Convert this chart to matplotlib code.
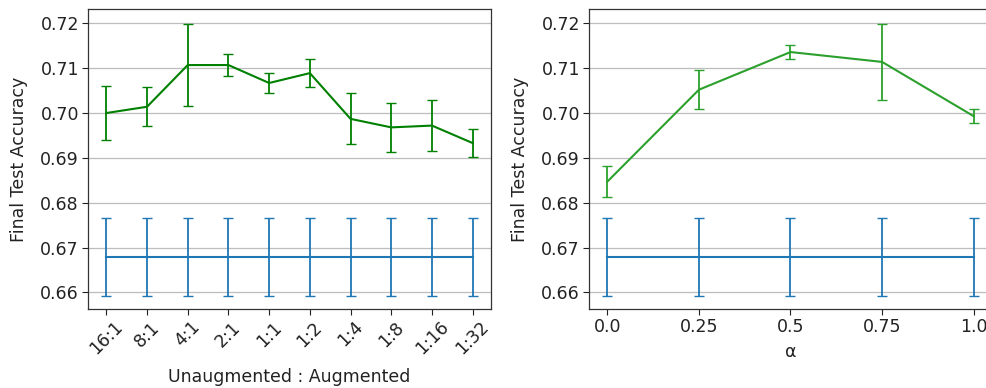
import matplotlib
matplotlib.use("Agg")
import matplotlib.pyplot as plt

plt.rcParams['font.family'] = ['DejaVu Sans']

ratios = ["16:1", "8:1", "4:1", "2:1", "1:1", "1:2", "1:4", "1:8", "1:16", "1:32"]
ratio_mean = [0.7000, 0.7014, 0.7107, 0.7107, 0.7067, 0.7089, 0.6987, 0.6968, 0.6972, 0.6933]
ratio_err = [0.0061, 0.0043, 0.0092, 0.0025, 0.0022, 0.0032, 0.0057, 0.0055, 0.0056, 0.0031]

alphas = [0.0, 0.25, 0.5, 0.75, 1.0]
alpha_labels = ["0.0", "0.25", "0.5", "0.75", "1.0"]
alpha_mean = [0.6847, 0.7052, 0.7136, 0.7114, 0.6993]
alpha_err = [0.0035, 0.0044, 0.0015, 0.0085, 0.0016]

baseline_mean = 0.6679
baseline_err = 0.0087

W, H = 987, 388
fig = plt.figure(figsize=(W / 100, H / 100), dpi=100)

def px_axes(x0, y0, x1, y1):
    return fig.add_axes([x0 / W, 1 - y1 / H, (x1 - x0) / W, (y1 - y0) / H])

ax1 = px_axes(88, 9, 491, 309)
ax2 = px_axes(589, 9, 992, 309)

FS = 12.5

def style(ax):
    ax.set_ylim(0.6563, 0.7232)
    ax.set_yticks([0.66, 0.67, 0.68, 0.69, 0.70, 0.71, 0.72])
    ax.set_yticklabels(["0.66", "0.67", "0.68", "0.69", "0.70", "0.71", "0.72"])
    ax.yaxis.grid(True, color='#bdbdbd', linewidth=0.9)
    ax.set_axisbelow(True)
    for s in ax.spines.values():
        s.set_color('#333333')
        s.set_linewidth(0.9)
    ax.tick_params(labelsize=FS, length=4, width=0.8, colors='#222222', pad=2.5)
    ax.set_ylabel("Final Test Accuracy", fontsize=FS, color='#222222', labelpad=9)

# Left panel
xs = list(range(len(ratios)))
ax1.errorbar(xs, [baseline_mean] * len(xs), yerr=[baseline_err] * len(xs),
             color='#1f77b4', capsize=3.5, linewidth=1.5, elinewidth=1.3)
ax1.errorbar(xs, ratio_mean, yerr=ratio_err, color='green', capsize=3.5,
             linewidth=1.5, elinewidth=1.3)
style(ax1)
ax1.set_xticks(xs)
ax1.set_xticklabels(ratios, rotation=45)
ax1.set_xlabel("Unaugmented : Augmented", fontsize=FS, color='#222222', labelpad=7)

# Right panel
ax2.errorbar(alphas, [baseline_mean] * len(alphas), yerr=[baseline_err] * len(alphas),
             color='#1f77b4', capsize=3.5, linewidth=1.5, elinewidth=1.3)
ax2.errorbar(alphas, alpha_mean, yerr=alpha_err, color='#2ca02c', capsize=3.5,
             linewidth=1.5, elinewidth=1.3)
style(ax2)
ax2.set_xticks(alphas)
ax2.set_xticklabels(alpha_labels)
ax2.set_xlabel("α", fontsize=FS, color='#222222', labelpad=5)

fig.savefig("out.png", dpi=100)
